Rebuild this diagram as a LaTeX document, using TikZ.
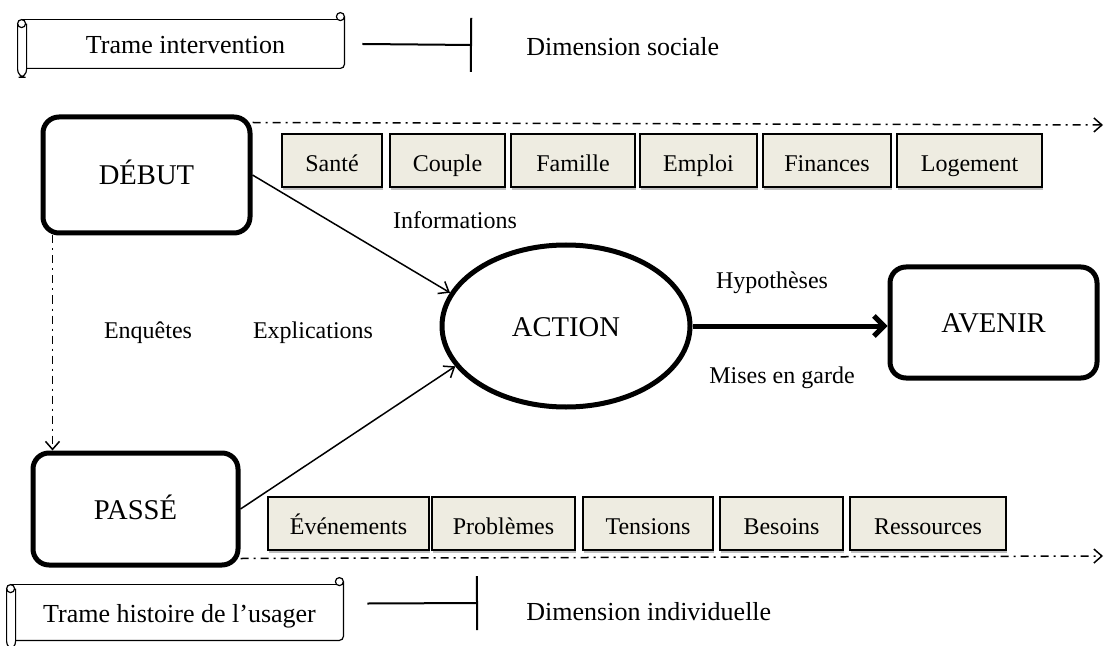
\documentclass[tikz,border=0pt]{standalone}
\usepackage{fontspec}
\setmainfont{Liberation Serif}
\usetikzlibrary{positioning, calc, shapes.geometric, arrows.meta, shadows}
\definecolor{fondBeige}{RGB}{238, 236, 225}
\tikzset{
  etape/.style={rectangle, draw=black, line width=2.5pt, fill=white,
                minimum width=103.5pt, minimum height=58pt,
                align=center, rounded corners=8pt, inner sep=0pt,
                text height=10pt, text depth=0pt,
                font=\fontsize{14.3}{17}\selectfont},
  theme/.style={rectangle, draw=black, line width=0.9pt, fill=fondBeige,
                minimum height=26.5pt, inner sep=0pt,
                text height=11pt, text depth=0pt,
                drop shadow={shadow xshift=0.6pt, shadow yshift=-1.6pt, fill=black!25, opacity=1},
                font=\fontsize{12}{14}\selectfont},
  etiquette/.style={inner sep=0pt, font=\fontsize{12}{14}\selectfont},
  rouleau/.style={minimum height=24pt, inner sep=0pt, text height=10pt, text depth=0pt,
                  font=\fontsize{13}{15}\selectfont},
  tirets/.style={line width=0.75pt, dash pattern=on 4pt off 2.5pt on 1pt off 2.5pt,
                 -{Straight Barb[length=4pt, width=7pt, line width=0.75pt]}},
  fleche/.style={line width=0.75pt, -{Straight Barb[length=4.5pt, width=7pt]}},
  borne/.style={line width=1pt, -{Bar[width=27pt, line width=1pt]}},
}
\newcommand{\dessinRouleau}[1]{%
  \draw[line width=0.6pt] ($(#1.north west)+(-5,0)$) -- ($(#1.north east)+(-6,0)$);
  \draw[line width=0.6pt, rounded corners=2pt] ($(#1.north east)+(0,-3)$) -- (#1.south east) -- (#1.south west);
  \draw[line width=0.6pt, rounded corners=4pt] ($(#1.north west)+(0,4)$) -- ($(#1.south west)+(0,9)$)
       -- ($(#1.south west)+(-9,9)$) -- ($(#1.north west)+(-9,4)$);
  \draw[line width=0.6pt] ($(#1.north west)+(-5,4)$) circle[radius=2pt];
  \draw[line width=0.6pt] ($(#1.north east)+(-4,-3)$) circle[radius=2pt];
}

\begin{document}
\begin{tikzpicture}[x=0.5pt, y=-0.5pt]
    \useasboundingbox (0,0) rectangle (1106,646);

    % Top: trame intervention
    \node[rouleau, minimum width=158.5pt] (trameI) at (185.5,44) {Trame intervention};
    \dessinRouleau{trameI}
    \coordinate (barI) at (472,45);
    \node[etiquette, anchor=west, font=\fontsize{13}{15}\selectfont] (dimS) at (526,47) {Dimension sociale};

    % Main steps
    \node[etape] (debut) at (146.5,175) {DÉBUT};

    \node[etape, minimum width=102.5pt, minimum height=56pt] (passe) at (135.5,509) {PASSÉ};

    \node[ellipse, draw=black, line width=2.5pt, fill=white, inner sep=0pt,
          minimum width=124pt, minimum height=81pt, text height=10pt, text depth=0pt,
          font=\fontsize{14.3}{17}\selectfont] (action) at (566,326) {ACTION};

    \node[etape, minimum height=55.5pt] (avenir) at (993.5,322.5) {AVENIR};

    % Social themes
    \node[theme, minimum width=50pt] (sante) at (332,160.5) {Santé};
    \node[theme, minimum width=57.5pt] (couple) at (447.5,160.5) {Couple};
    \node[theme, minimum width=62pt] (famille) at (573,160.5) {Famille};
    \node[theme, minimum width=58.5pt] (emploi) at (698.5,160.5) {Emploi};
    \node[theme, minimum width=64pt] (finances) at (827,160.5) {Finances};
    \node[theme, minimum width=72.5pt] (logement) at (969.5,160.5) {Logement};

    % Individual themes
    \node[theme, minimum width=80.5pt] (evenements) at (348.5,523.5) {Événements};
    \node[theme, minimum width=71.5pt] (problemes) at (503.5,523.5) {Problèmes};
    \node[theme, minimum width=65pt] (tensions) at (648,523.5) {Tensions};
    \node[theme, minimum width=61.5pt] (besoins) at (781.5,523.5) {Besoins};
    \node[theme, minimum width=78pt] (ressources) at (928,523.5) {Ressources};

    % Labels
    \node[etiquette] (info) at (455,220) {Informations};
    \node[etiquette] (explic) at (313,333) {Explications};
    \node[etiquette] (enquetes) at (148,333) {Enquêtes};
    \node[etiquette] (hypo) at (772,283) {Hypothèses};
    \node[etiquette] (garde) at (782,378) {Mises en garde};

    % Bottom: trame histoire
    \node[rouleau, minimum width=163.5pt, minimum height=27.5pt] (trameH) at (179.5,612.5) {Trame histoire de l’usager};
    \dessinRouleau{trameH}
    \coordinate (barH) at (478,603);
    \node[etiquette, anchor=west, font=\fontsize{13}{15}\selectfont] (dimI) at (526,612) {Dimension individuelle};

    % Connections
    \coordinate (finD) at (1103,125);
    \coordinate (finP) at (1103,556);
    \draw[tirets] ([yshift=-4pt]debut.north east) -- (finD);
    \draw[tirets] ([yshift=4.5pt]passe.south east) -- (finP);
    \draw[tirets] ([xshift=6pt]debut.south west) -- ([xshift=11pt]passe.north west);
    \draw[fleche] (debut.east) -- (action.164);
    \draw[fleche] (passe.east) -- (action.200);
    \draw[line width=2.5pt, -{Straight Barb[length=5pt, width=10pt]}] (action.east) -- (action.east -| avenir.west);
    \draw[borne] ([xshift=9pt]trameI.east) -- (barI);
    \draw[borne] ([xshift=12pt,yshift=4.5pt]trameH.east) -- (barH);
\end{tikzpicture}
\end{document}
